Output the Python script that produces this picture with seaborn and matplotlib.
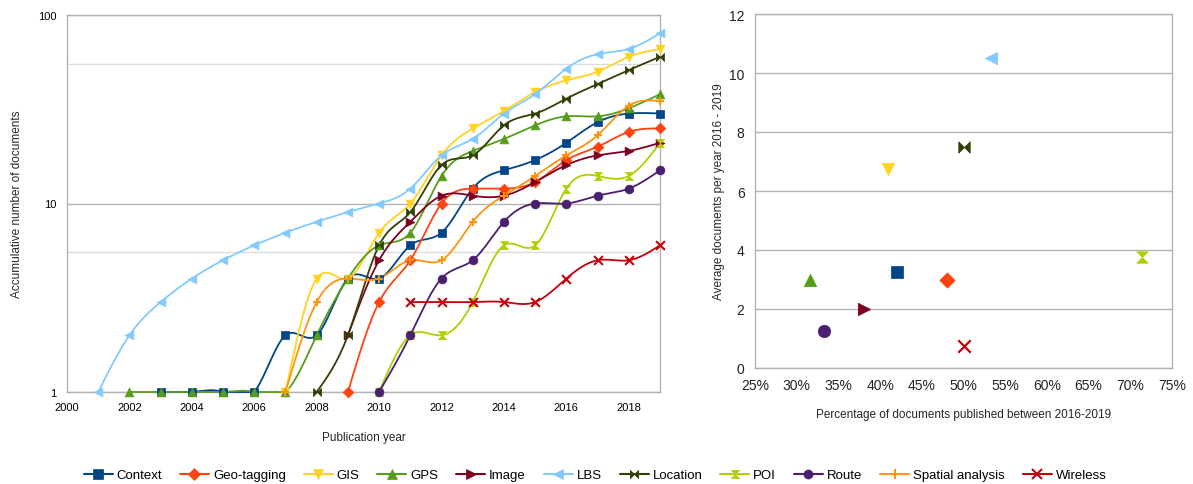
import numpy as np
import pandas as pd
import matplotlib
matplotlib.use("Agg")
import matplotlib.pyplot as plt
import seaborn as sns
from matplotlib.lines import Line2D
from matplotlib.ticker import FixedLocator, NullLocator, FuncFormatter, NullFormatter

# ---------------- data ----------------
context_years = list(range(2003, 2020))
context_vals = [1, 1, 1, 1, 2, 2, 4, 4, 6, 7, 12, 15, 17, 21, 27, 30, 30]
geo_years = list(range(2009, 2020))
geo_vals = [1, 3, 5, 10, 12, 12, 13, 17, 20, 24, 25]
gis_years = list(range(2007, 2020))
gis_vals = [1, 4, 4, 7, 10, 18, 25, 31, 39, 45, 50, 60, 66]
gps_years = list(range(2002, 2020))
gps_vals = [1, 1, 1, 1, 1, 1, 2, 4, 6, 7, 14, 19, 22, 26, 29, 29, 32, 38]
image_years = list(range(2009, 2020))
image_vals = [2, 5, 8, 11, 11, 11, 13, 16, 18, 19, 21]
lbs_years = list(range(2001, 2020))
lbs_vals = [1, 2, 3, 4, 5, 6, 7, 8, 9, 10, 12, 18, 22, 30, 38, 52, 62, 66, 80]
location_years = list(range(2008, 2020))
location_vals = [1, 2, 6, 9, 16, 18, 26, 30, 36, 43, 51, 60]
poi_years = list(range(2010, 2020))
poi_vals = [1, 2, 2, 3, 6, 6, 12, 14, 14, 21]
route_years = list(range(2010, 2020))
route_vals = [1, 2, 4, 5, 8, 10, 10, 11, 12, 15]
spatial_years = list(range(2007, 2020))
spatial_vals = [1, 3, 4, 4, 5, 5, 8, 11, 14, 18, 23, 33, 35]
wireless_years = list(range(2011, 2020))
wireless_vals = [3, 3, 3, 3, 3, 4, 5, 5, 6]

series_names = ["Context", "Geo-tagging", "GIS", "GPS", "Image", "LBS",
                "Location", "POI", "Route", "Spatial analysis", "Wireless"]

# right chart (Spatial analysis not shown)
scatter_names = ["Context", "Geo-tagging", "GIS", "GPS", "Image", "LBS",
                 "Location", "POI", "Route", "Wireless"]
scatter_pct = [42.0, 48.0, 40.9, 31.6, 38.1, 53.3, 50.0, 71.4, 33.3, 50.0]
scatter_avg = [3.25, 3.0, 6.75, 3.0, 2.0, 10.5, 7.5, 3.75, 1.25, 0.75]

x_ticks = list(range(2000, 2020, 2))
y_ticks = [1, 10, 100]
pct_ticks = list(range(25, 80, 5))
avg_ticks = list(range(0, 14, 2))

# ---------------- styles ----------------
series_data = {
    "Context": (context_years, context_vals),
    "Geo-tagging": (geo_years, geo_vals),
    "GIS": (gis_years, gis_vals),
    "GPS": (gps_years, gps_vals),
    "Image": (image_years, image_vals),
    "LBS": (lbs_years, lbs_vals),
    "Location": (location_years, location_vals),
    "POI": (poi_years, poi_vals),
    "Route": (route_years, route_vals),
    "Spatial analysis": (spatial_years, spatial_vals),
    "Wireless": (wireless_years, wireless_vals),
}
colors = {
    "Context": "#004586", "Geo-tagging": "#ff420e", "GIS": "#ffd320",
    "GPS": "#579d1c", "Image": "#7e0021", "LBS": "#83caff",
    "Location": "#314004", "POI": "#aecf00", "Route": "#4b1f6f",
    "Spatial analysis": "#ff950e", "Wireless": "#c5000b",
}
bowtie_h = [(-1, -1), (1, 1), (1, -1), (-1, 1), (-1, -1)]
bowtie_v = [(-1, -1), (1, 1), (-1, 1), (1, -1), (-1, -1)]
markers = {
    "Context": "s", "Geo-tagging": "D", "GIS": "v", "GPS": "^",
    "Image": ">", "LBS": "<", "Location": bowtie_h, "POI": bowtie_v,
    "Route": "o", "Spatial analysis": "+", "Wireless": "x",
}
msize = {"Context": 1.0, "Geo-tagging": 0.75, "GIS": 1.0, "GPS": 1.0,
         "Image": 1.0, "LBS": 1.0, "Location": 0.85, "POI": 0.85,
         "Route": 1.0, "Spatial analysis": 1.0, "Wireless": 1.0}


def natural_spline(xs, ys, per=30):
    xs = np.asarray(xs, float)
    ys = np.asarray(ys, float)
    n = len(xs)
    h = np.diff(xs)
    A = np.zeros((n, n))
    b = np.zeros(n)
    A[0, 0] = 1
    A[-1, -1] = 1
    for i in range(1, n - 1):
        A[i, i - 1] = h[i - 1]
        A[i, i] = 2 * (h[i - 1] + h[i])
        A[i, i + 1] = h[i]
        b[i] = 6 * ((ys[i + 1] - ys[i]) / h[i] - (ys[i] - ys[i - 1]) / h[i - 1])
    M = np.linalg.solve(A, b)
    ox, oy = [], []
    for i in range(n - 1):
        t = np.linspace(xs[i], xs[i + 1], per, endpoint=(i == n - 2))
        a = xs[i + 1] - t
        c = t - xs[i]
        s = (M[i] * a ** 3 + M[i + 1] * c ** 3) / (6 * h[i]) \
            + (ys[i] / h[i] - M[i] * h[i] / 6) * a \
            + (ys[i + 1] / h[i] - M[i + 1] * h[i] / 6) * c
        ox.append(t)
        oy.append(s)
    return np.concatenate(ox), np.concatenate(oy)


sns.set_theme(style="white")
plt.rcParams["font.family"] = ["Liberation Sans", "DejaVu Sans"]
plt.rcParams["text.color"] = "black"

W, H = 1193, 485
fig = plt.figure(figsize=(W / 100, H / 100), dpi=100)
fig.patch.set_facecolor("white")

# ---------------- left chart ----------------
axL = fig.add_axes([67 / W, 1 - 393 / H, (660 - 67) / W, (393 - 16) / H])
axL.set_yscale("log")
for name in series_names:
    yrs, vals = series_data[name]
    col = colors[name]
    dx, dy = natural_spline(yrs, np.log10(vals))
    dy = np.maximum(dy, 0)
    line_df = pd.DataFrame({"x": dx, "y": 10 ** dy})
    sns.lineplot(data=line_df, x="x", y="y", color=col, lw=1.3, ax=axL,
                 sort=False, estimator=None, clip_on=False, zorder=3)
    pt_df = pd.DataFrame({"x": yrs, "y": vals})
    unfilled = markers[name] in ("+", "x")
    sns.scatterplot(data=pt_df, x="x", y="y", marker=markers[name],
                    s=40 * msize[name], color=col, edgecolor=col,
                    linewidth=1.5 if unfilled else 0.5, ax=axL,
                    clip_on=False, zorder=4)

axL.set_xlim(2000, 2019)
axL.set_ylim(1, 100)
axL.xaxis.set_major_locator(FixedLocator(x_ticks))
axL.yaxis.set_major_locator(FixedLocator(y_ticks))
axL.yaxis.set_major_formatter(FuncFormatter(lambda v, p: f"{int(v)}"))
axL.yaxis.set_minor_locator(FixedLocator([5.5, 55]))
axL.yaxis.set_minor_formatter(NullFormatter())
axL.xaxis.set_minor_locator(NullLocator())
axL.grid(True, axis="y", which="major", color="#b3b3b3", lw=1.0, zorder=0)
axL.grid(True, axis="y", which="minor", color="#dddddd", lw=1.0, zorder=0)
axL.grid(False, axis="x")
axL.tick_params(axis="both", which="major", labelsize=8, colors="#b3b3b3",
                labelcolor="black", length=4, width=1, direction="out")
axL.tick_params(axis="y", which="minor", length=0)
axL.tick_params(axis="x", pad=3)
for sp in axL.spines.values():
    sp.set_color("#b3b3b3")
    sp.set_linewidth(1.0)
axL.set_xlabel("Publication year", fontsize=8.5, labelpad=14)
axL.set_ylabel("Accumulative number of documents", fontsize=8.5, labelpad=11)

# ---------------- right chart ----------------
axR = fig.add_axes([755 / W, 1 - 369 / H, (1172 - 755) / W, (369 - 15) / H])
for name, px, py in zip(scatter_names, scatter_pct, scatter_avg):
    col = colors[name]
    unfilled = markers[name] in ("+", "x")
    sns.scatterplot(x=[px], y=[py], marker=markers[name],
                    s=80 * msize[name], color=col, edgecolor=col,
                    linewidth=1.6 if unfilled else 0.5, ax=axR,
                    clip_on=False, zorder=4)
axR.set_xlim(25, 75)
axR.set_ylim(0, 12)
axR.xaxis.set_major_locator(FixedLocator(pct_ticks))
axR.xaxis.set_major_formatter(FuncFormatter(lambda v, p: f"{int(v)}%"))
axR.yaxis.set_major_locator(FixedLocator(avg_ticks))
axR.grid(True, axis="y", color="#b3b3b3", lw=1.0, zorder=0)
axR.grid(False, axis="x")
axR.tick_params(axis="both", labelsize=10, colors="#b3b3b3",
                labelcolor="#222222", length=4, width=1, direction="out")
for sp in axR.spines.values():
    sp.set_color("#b3b3b3")
    sp.set_linewidth(1.0)
axR.set_xlabel("Percentage of documents published between 2016-2019",
               fontsize=8.5, labelpad=11)
axR.set_ylabel("Average documents per year 2016 - 2019", fontsize=8.5,
               labelpad=3)

# ---------------- legend ----------------
handles = []
for name in series_names:
    unfilled = markers[name] in ("+", "x")
    handles.append(Line2D([0], [0], color=colors[name], lw=1.5,
                          marker=markers[name],
                          markersize=6.5 * np.sqrt(msize[name]),
                          markerfacecolor=colors[name],
                          markeredgecolor=colors[name],
                          markeredgewidth=1.5 if unfilled else 0.5))
fig.legend(handles, series_names, loc="center",
           bbox_to_anchor=(595 / W, 1 - 476 / H), ncol=11, frameon=False,
           fontsize=9.5, handlelength=2.2, handletextpad=0.3,
           columnspacing=1.35)

fig.savefig("out.png", dpi=100, facecolor="white")
